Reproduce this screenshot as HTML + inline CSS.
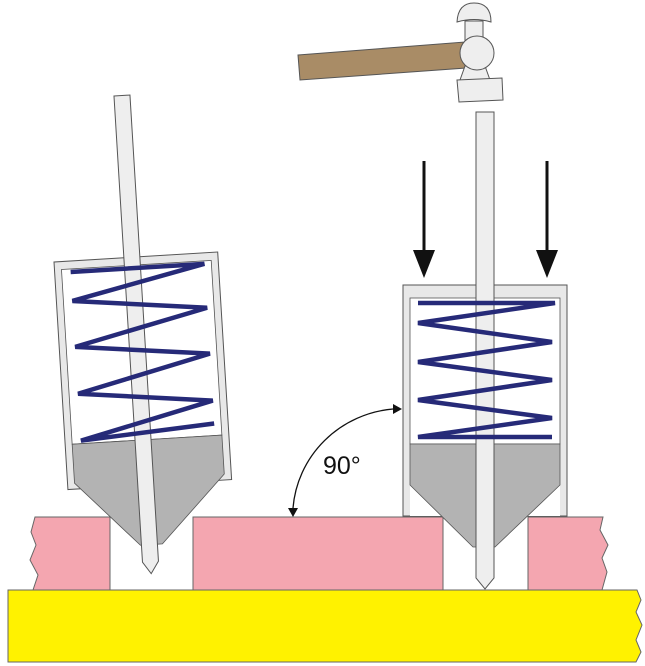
<!DOCTYPE html>
<html><head><style>body{margin:0;background:#fff}svg{display:block}</style></head><body>
<svg width="645" height="666" viewBox="0 0 645 666" xmlns="http://www.w3.org/2000/svg">
<!-- yellow base -->
<path d="M8,590 L637,590 L641,600 L636,612 L642,625 L636,640 L641,652 L636,662 L8,662 Z" fill="#fff200" stroke="#666" stroke-width="1"/>
<!-- pink blocks -->
<path d="M35,517 L110,517 L110,590 L33,590 L38,575 L30,560 L36,545 L31,532 Z" fill="#f4a6b0" stroke="#666" stroke-width="1"/>
<rect x="193" y="517" width="250" height="73" fill="#f4a6b0" stroke="#666" stroke-width="1"/>
<path d="M528,517 L603,517 L600,530 L608,545 L602,558 L607,572 L602,590 L528,590 Z" fill="#f4a6b0" stroke="#666" stroke-width="1"/>

<!-- left device (tilted) -->
<g transform="translate(54,262) rotate(-3.5)">
  <rect x="0" y="0" width="164" height="228" fill="#e8e8e8" stroke="#555"/>
  <rect x="7" y="8" width="150" height="175" fill="#fff" stroke="#555" stroke-width="0.8"/>
  <rect x="7" y="183" width="150" height="40" fill="#fff"/>
  <polygon points="7,183 157,183 157,222 91,288 69,288 7,222" fill="#b3b3b3" stroke="#555" stroke-width="0.8"/>
  <path d="M70,-162 L86,-162 L86,305 L78,317 L70,305 Z" fill="#eee" stroke="#555"/>
  <polyline points="16,11 150,11 16,40 150,55 16,86 150,101 16,133 150,148 16,180 150,171" fill="none" stroke="#262a78" stroke-width="4.5" stroke-linejoin="miter"/>
</g>

<!-- right device -->
<rect x="403" y="285" width="164" height="231" fill="#e8e8e8" stroke="#555"/>
<rect x="410" y="298" width="150" height="146" fill="#fff" stroke="#555" stroke-width="0.8"/>
<rect x="410" y="444" width="150" height="72" fill="#fff"/>
<polygon points="410,444 560,444 560,485 495,547 473,547 410,485" fill="#b3b3b3" stroke="#555" stroke-width="0.8"/>
<path d="M476,112 L494,112 L494,578 L485,589 L476,578 Z" fill="#eee" stroke="#555"/>
<polyline points="418,303 555,303 418,323 552,342 418,362 552,380 418,400 552,418 418,437 552,437" fill="none" stroke="#262a78" stroke-width="4.5"/>

<!-- hammer -->
<polygon points="298,55 465,42 466,68 300,80" fill="#a98c66" stroke="#555"/>
<path d="M457,22 Q458,3 474,3 Q491,3 491,22 Q474,17 457,22 Z" fill="#eee" stroke="#555"/>
<rect x="465" y="21" width="18" height="20" fill="#eee" stroke="#555"/>
<path d="M465,66 L485,66 L490,80 L460,80 Z" fill="#eee" stroke="#555"/>
<circle cx="477" cy="53" r="17" fill="#eee" stroke="#555"/>
<path d="M457,80 L502,78 L503,100 L459,102 Z" fill="#eee" stroke="#555"/>

<!-- arrows -->
<line x1="424" y1="161" x2="424" y2="255" stroke="#111" stroke-width="3"/>
<polygon points="413,250 435,250 424,278" fill="#111"/>
<line x1="547" y1="161" x2="547" y2="255" stroke="#111" stroke-width="3"/>
<polygon points="536,250 558,250 547,278" fill="#111"/>

<!-- angle arc -->
<path d="M393,409 A110,108 0 0 0 293,508" fill="none" stroke="#111" stroke-width="1.3"/>
<polygon points="393,404 402,409 393,414" fill="#111"/>
<polygon points="288,508 298,508 293,517" fill="#111"/>
<text x="323" y="474" font-family="Liberation Sans, sans-serif" font-size="25" fill="#111">90°</text>
</svg>
</body></html>
